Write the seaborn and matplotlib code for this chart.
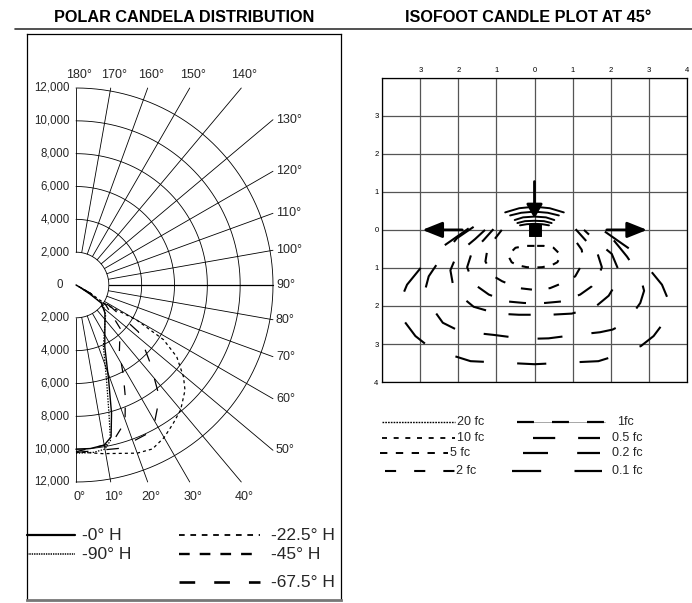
import numpy as np
import matplotlib
matplotlib.use("Agg")
import matplotlib.pyplot as plt
from matplotlib.lines import Line2D
import seaborn as sns

# ---- polar candela data: vertical angle (deg) / candela ----
h0_ang = [0, 5, 10, 13, 15.5, 19, 25, 46, 54.5, 57, 60, 90]
h0_cd = [10000, 10000, 9900, 9500, 8100, 6100, 4150, 2450, 1900, 1000, 300, 0]
h90_ang = [0, 6, 10, 12.5, 14.5, 18, 24, 45, 55, 58, 62, 90]
h90_cd = [10250, 10250, 10150, 9700, 8000, 6000, 4100, 2550, 2000, 1000, 300, 0]
h225_ang = [0, 9, 20, 25, 30, 35, 40, 46, 49.5, 54.5, 58, 60, 57, 60, 90]
h225_cd = [10170, 10400, 10900, 11020, 10730, 10310, 9920, 9230, 8610, 7540, 6290, 4270, 2240, 1000, 0]
h45_ang = [0, 12.7, 19.7, 23.7, 27.7, 33, 45.5, 56, 60, 90]
h45_cd = [10150, 9900, 8860, 7480, 6200, 4850, 3770, 2200, 1000, 0]
h675_ang = [0, 15, 27.8, 36.6, 43.6, 53.1, 58, 60, 90]
h675_cd = [10200, 10300, 10040, 8530, 6550, 4750, 2500, 1000, 0]

cd_rings = [2000, 4000, 6000, 8000, 10000, 12000]
spoke_angles = list(range(0, 181, 10))
top_angles = [180, 170, 160, 150, 140]
side_angles = [130, 120, 110, 100, 90, 80, 70, 60, 50]
bottom_angles = [0, 10, 20, 30, 40]

# ---- isofootcandle data (right halves, grid units; mirrored about x=0) ----
grid_ticks = [-4, -3, -2, -1, 0, 1, 2, 3, 4]
top_labels = ["", "3", "2", "1", "0", "1", "2", "3", "4"]
left_labels = ["4", "3", "2", "1", "0", "1", "2", "3", ""]

c5_x = [0, 0.24, 0.5, 0.63, 0.67, 0.6, 0.45, 0.2, 0]
c5_y = [-0.42, -0.42, -0.47, -0.6, -0.72, -0.85, -0.93, -0.98, -0.99]
c2_x = [0.86, 1.03, 1.24, 1.29, 1.07, 0.85, 0.41, 0.06, 0]
c2_y = [0, -0.22, -0.52, -0.83, -1.22, -1.35, -1.53, -1.57, -1.57]
c1_x = [1.08, 1.34, 1.64, 1.77, 1.65, 1.51, 1.2, 0.72, 0.28, 0]
c1_y = [0.02, -0.27, -0.57, -0.98, -1.3, -1.48, -1.70, -1.88, -1.92, -1.93]
c05_x = [1.3, 1.56, 2.03, 2.21, 2.15, 1.95, 1.6, 0.98, 0.41, 0]
c05_y = [0, -0.24, -0.63, -1.06, -1.4, -1.73, -2.02, -2.2, -2.23, -2.23]
c02_x = [1.6, 2.04, 2.43, 2.78, 2.88, 2.78, 2.41, 2.05, 1.72, 1.07, 0.37, 0]
c02_y = [0.08, -0.22, -0.7, -1.22, -1.6, -1.92, -2.44, -2.62, -2.69, -2.76, -2.85, -2.86]
c01_x = [1.73, 2.17, 2.5, 2.82, 3.35, 3.5, 3.55, 3.13, 2.8, 2.38, 1.68, 0.83, 0]
c01_y = [0.04, -0.27, -0.5, -0.79, -1.44, -1.8, -2.23, -2.79, -3.05, -3.23, -3.45, -3.49, -3.53]

# upper lobes over the fixture (outer end -> centre)
arc_x = [[0.77, 0.4, 0], [0.64, 0.35, 0], [0.52, 0.3, 0], [0.45, 0.25, 0], [0.38, 0.2, 0]]
arc_y = [[0.46, 0.57, 0.61], [0.38, 0.45, 0.48], [0.26, 0.33, 0.35],
         [0.18, 0.23, 0.24], [0.12, 0.15, 0.16]]

aim_tail = [(0, 1.27), (-1.9, 0), (1.9, 0)]
aim_head = [(0, 0.3), (-2.95, 0), (2.96, 0)]

sns.set_theme(style="white")
plt.rcParams["font.family"] = ["Liberation Sans", "DejaVu Sans"]
plt.rcParams["lines.scale_dashes"] = False

W, H = 692, 603
fig = plt.figure(figsize=(W / 100, H / 100), dpi=100)


def fx(px):
    return px / W


def fy(py):
    return 1 - py / H


def mirror(xr, yr):
    xr = np.asarray(xr, float)
    yr = np.asarray(yr, float)
    return (np.concatenate([-xr, xr[::-1][1:]]),
            np.concatenate([yr, yr[::-1][1:]]))


# ---------------- header ----------------
fig.add_artist(Line2D([fx(15), fx(692)], [fy(29.3), fy(29.3)], color="#333333", lw=1.2))
fig.text(fx(184), fy(18), "POLAR CANDELA DISTRIBUTION", ha="center", va="center",
         fontsize=11.7, fontweight="bold", color="black")
fig.text(fx(528), fy(18), "ISOFOOT CANDLE PLOT AT 45°", ha="center", va="center",
         fontsize=11.7, fontweight="bold", color="black")

# ---------------- polar candela panel ----------------
cx, cy = 76, 285
k = 12000 / 197.0
bx0, by0, bx1, by1 = 27.3, 34, 341, 600
axp = fig.add_axes([fx(bx0), fy(by1), (bx1 - bx0) / W, (by1 - by0) / H])
axp.set_xticks([])
axp.set_yticks([])
for s in axp.spines.values():
    s.set_color("black")
    s.set_linewidth(0.9)
axp.spines["bottom"].set_color("#777777")
axp.spines["bottom"].set_linewidth(2)

th = np.radians(np.linspace(0, 180, 181))
for r in cd_rings:
    axp.plot(r * np.sin(th), -r * np.cos(th), color="black", lw=0.6)
R = 12000
for a in spoke_angles:
    t = np.radians(a)
    sx, sy = np.sin(t), -np.cos(t)
    lim = []
    if abs(sx) > 1e-9:
        lim.append(R / abs(sx))
    if abs(sy) > 1e-9:
        lim.append(R / abs(sy))
    L = min(lim)
    axp.plot([2000 * sx, L * sx], [2000 * sy, L * sy], color="black",
             lw=0.9 if a == 90 else 0.6)

for r in cd_rings:
    for sgn in (1, -1):
        axp.text(-6 * k, sgn * r, f"{r:,}", ha="right", va="center", fontsize=8.3)
axp.text(-13 * k, 0, "0", ha="right", va="center", fontsize=8.3)

for a in top_angles:
    x = R * np.tan(np.radians(180 - a))
    axp.text(x + 3 * k, R + 13 * k, f"{a}°", ha="center", va="center", fontsize=9)
for a in bottom_angles:
    x = R * np.tan(np.radians(a))
    axp.text(x + 3 * k, -R - 15 * k, f"{a}°", ha="center", va="center", fontsize=9)
for a in side_angles:
    t = np.radians(a)
    y = -np.cos(t) / np.sin(t) * R
    axp.text(R + 3 * k, y, f"{a}°", ha="left", va="center", fontsize=9)

polar_series = [
    (h0_ang, h0_cd, "-", 1.0),
    (h90_ang, h90_cd, (0, (1, 1)), 0.9),
    (h225_ang, h225_cd, (0, (2.2, 2.2)), 0.9),
    (h45_ang, h45_cd, (0, (7, 9)), 0.9),
    (h675_ang, h675_cd, (0, (9, 13)), 0.9),
]
for ang, cd, ls, lw in polar_series:
    t = np.radians(ang)
    cdv = np.asarray(cd, float)
    sns.lineplot(x=cdv * np.sin(t), y=-cdv * np.cos(t), sort=False, estimator=None,
                 ax=axp, color="black", lw=lw, linestyle=ls)

axp.set_xlim((bx0 - cx) * k, (bx1 - cx) * k)
axp.set_ylim((cy - by1) * k, (cy - by0) * k)
axp.set_xlabel("")
axp.set_ylabel("")

# polar legend
polar_legend = [
    ("-0° H", 27.3, 75, 535, "-", 1.6, 81.7),
    ("-90° H", 27.3, 75, 554.3, (0, (1, 0.7)), 1.1, 81.7),
    ("-22.5° H", 179.3, 260, 535, (0, (4.1, 4.1)), 1.3, 270.7),
    ("-45° H", 179.3, 260, 554.3, (0, (7.7, 7.2)), 1.7, 270.7),
    ("-67.5° H", 179.3, 260, 582.3, (0, (11.3, 13.7)), 1.9, 270.7),
]
for lab, x0, x1, y, ls, lw, tx in polar_legend:
    fig.add_artist(Line2D([fx(x0), fx(x1)], [fy(y), fy(y)], color="black", lw=lw, linestyle=ls))
    fig.text(fx(tx), fy(y), lab, ha="left", va="center", fontsize=12.5)

# ---------------- isofootcandle panel ----------------
gx0, gy0, gsz = 382.3, 77.7, 304.4
axi = fig.add_axes([fx(gx0), fy(gy0 + gsz), gsz / W, gsz / H])
axi.set_xlim(-4, 4)
axi.set_ylim(-4, 4)
axi.set_xticks(grid_ticks)
axi.set_yticks(grid_ticks)
axi.set_xticklabels(top_labels)
axi.set_yticklabels(left_labels)
axi.xaxis.tick_top()
axi.tick_params(length=0, labelsize=5.5, colors="black")
axi.tick_params(axis="x", pad=2.5)
axi.tick_params(axis="y", pad=2.8)
axi.grid(True, color="#555555", lw=0.9)
for s in axi.spines.values():
    s.set_color("black")
    s.set_linewidth(0.9)

contours = [
    (c5_x, c5_y, (0, (5.3, 6.1))),
    (c2_x, c2_y, (0, (8, 12))),
    (c1_x, c1_y, (0, (12.2, 13))),
    (c05_x, c05_y, (0, (16, 16.5))),
    (c02_x, c02_y, (0, (18, 21))),
    (c01_x, c01_y, (0, (21, 24))),
]
for xr, yr, ls in contours:
    x, y = mirror(xr, yr)
    sns.lineplot(x=x, y=y, sort=False, estimator=None, ax=axi, color="black",
                 lw=1.5, linestyle=ls)
for xr, yr in zip(arc_x, arc_y):
    x, y = mirror(xr, yr)
    sns.lineplot(x=x, y=y, sort=False, estimator=None, ax=axi, color="black", lw=1.4)

for (x0, y0), (x1, y1) in zip(aim_tail, aim_head):
    hl = 0.7 if x0 == 0 else 1.0
    axi.annotate("", xy=(x1, y1), xytext=(x0, y0),
                 arrowprops=dict(arrowstyle=f"-|>,head_length={hl},head_width=0.4",
                                 color="black", lw=2, mutation_scale=12,
                                 shrinkA=0, shrinkB=0))
sns.scatterplot(x=[0], y=[0], ax=axi, marker="s", s=75, color="black",
                edgecolor="black", zorder=5)
axi.set_xlim(-4, 4)
axi.set_ylim(-4, 4)
axi.set_xlabel("")
axi.set_ylabel("")

# isofootcandle legend
fc_legend = [
    ("20 fc", 381.7, 455, 422.3, (0, (1.2, 0.8)), 1.0, 457.3),
    ("10 fc", 381.7, 455, 437.7, (0, (3.6, 4.8)), 1.3, 457.3),
    ("5 fc", 380, 448.3, 453.3, (0, (5.3, 6.1)), 1.4, 450),
    ("2 fc", 385, 455, 471, (0, (8, 13)), 1.5, 455.5),
    ("1fc", 516.7, 605, 422.3, (0, (12.2, 13)), 1.6, 616.7),
    ("0.5 fc", 533, 600, 437.7, (0, (16, 16.5)), 1.6, 611.7),
    ("0.2 fc", 523, 600, 453.3, (0, (18, 21)), 1.6, 611.7),
    ("0.1 fc", 511.7, 601.7, 471, (0, (21, 24)), 1.6, 611.7),
]
for lab, x0, x1, y, ls, lw, tx in fc_legend:
    if lab == "1fc":
        fig.add_artist(Line2D([fx(x0), fx(x1)], [fy(y), fy(y)], color="#999999", lw=0.6))
    fig.add_artist(Line2D([fx(x0), fx(x1)], [fy(y), fy(y)], color="black", lw=lw, linestyle=ls))
    fig.text(fx(tx), fy(y), lab, ha="left", va="center", fontsize=9)

fig.savefig("out.png", dpi=100)
